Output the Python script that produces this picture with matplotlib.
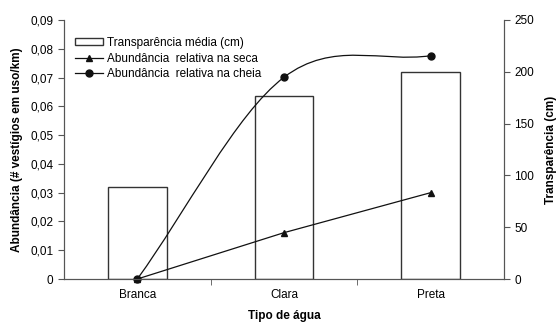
import numpy as np
from matplotlib import pyplot as plt
from matplotlib import rcParams
from matplotlib.path import Path
from matplotlib.patches import PathPatch, Patch
from matplotlib.lines import Line2D

rcParams["font.family"] = ["Liberation Sans", "DejaVu Sans"]
rcParams["font.size"] = 8.5

# data
categorias = ["Branca", "Clara", "Preta"]
transparencia = [89, 177, 200]
seca = [0.0, 0.0161, 0.0300]
cheia = [0.0, 0.0701, 0.0776]
yticks_left = [0, 0.01, 0.02, 0.03, 0.04, 0.05, 0.06, 0.07, 0.08, 0.09]
yticks_right = [0, 50, 100, 150, 200, 250]

fig = plt.figure(figsize=(5.56, 3.24), dpi=100)
ax = fig.add_axes([64/556, 45/324, 440/556, 259/324])
ax2 = ax.twinx()
ax.set_zorder(ax2.get_zorder() + 1)
ax.patch.set_visible(False)

x = np.arange(len(categorias))

# bars on right axis
ax2.bar(x, transparencia, width=0.4, color="white", edgecolor="#333333", linewidth=1.0)
ax2.set_ylim(0, 250)
ax2.set_yticks(yticks_right)
ax2.set_ylabel("Transparência (cm)", fontweight="bold")
ax2.yaxis.set_label_coords((545 - 64) / 440, 0.5)

# seca: straight line with triangles
ax.plot(x, seca, "-", color="#111111", lw=0.9, marker="^", ms=5, clip_on=False)

# cheia: smoothed line (bezier, excel style, ends use 1/3)
pts = [np.array(p, dtype=float) for p in zip(x, cheia)]
verts = [tuple(pts[0])]
codes = [Path.MOVETO]
n = len(pts)
for i in range(n - 1):
    p1, p2 = pts[i], pts[i + 1]
    c1 = p1 + (p2 - pts[i - 1]) / 6 if i > 0 else p1 + (p2 - p1) / 3
    c2 = p2 - (pts[i + 2] - p1) / 6 if i + 2 < n else p2 - (p2 - p1) / 3
    verts += [tuple(c1), tuple(c2), tuple(p2)]
    codes += [Path.CURVE4] * 3
ax.add_patch(PathPatch(Path(verts, codes), fill=False, edgecolor="#111111", lw=0.9, clip_on=False))
ax.plot(x, cheia, "o", color="#111111", ms=5, clip_on=False)

ax.set_xlim(-0.5, 2.5)
ax.set_ylim(0, 0.09)
ax.set_yticks(yticks_left)
ax.set_yticklabels([("%g" % v).replace(".", ",") if v else "0" for v in yticks_left])
ax.set_ylabel("Abundância (# vestígios em uso/km)", fontweight="bold")
ax.yaxis.set_label_coords((23 - 64) / 440, 0.5)

ax.set_xticks(x)
ax.set_xticklabels(categorias)
ax.set_xticks([0.5, 1.5], minor=True)
ax.tick_params(axis="x", which="major", length=0, pad=7)
ax.tick_params(axis="x", which="minor", length=4, color="#555555")
ax.set_xlabel("Tipo de água", fontweight="bold")
ax.xaxis.set_label_coords(0.5, -(310 - 279) / 259)

for a in (ax, ax2):
    a.spines["top"].set_visible(False)
    for s in ("left", "right", "bottom"):
        a.spines[s].set_color("#555555")
ax.tick_params(axis="y", length=4, color="#555555")
ax2.tick_params(axis="y", length=4, color="#555555")

handles = [
    Patch(facecolor="white", edgecolor="#333333", linewidth=1.0),
    Line2D([], [], color="#111111", lw=0.9, marker="^", ms=5),
    Line2D([], [], color="#111111", lw=0.9, marker="o", ms=5),
]
labels = ["Transparência média (cm)", "Abundância  relativa na seca", "Abundância  relativa na cheia"]
ax.legend(handles, labels, loc="upper left", bbox_to_anchor=(0.025, 0.935), frameon=False,
          handlelength=2.4, handleheight=0.6, handletextpad=0.3, labelspacing=0.32, borderaxespad=0,
          borderpad=0)

fig.savefig("out.png", dpi=100)
